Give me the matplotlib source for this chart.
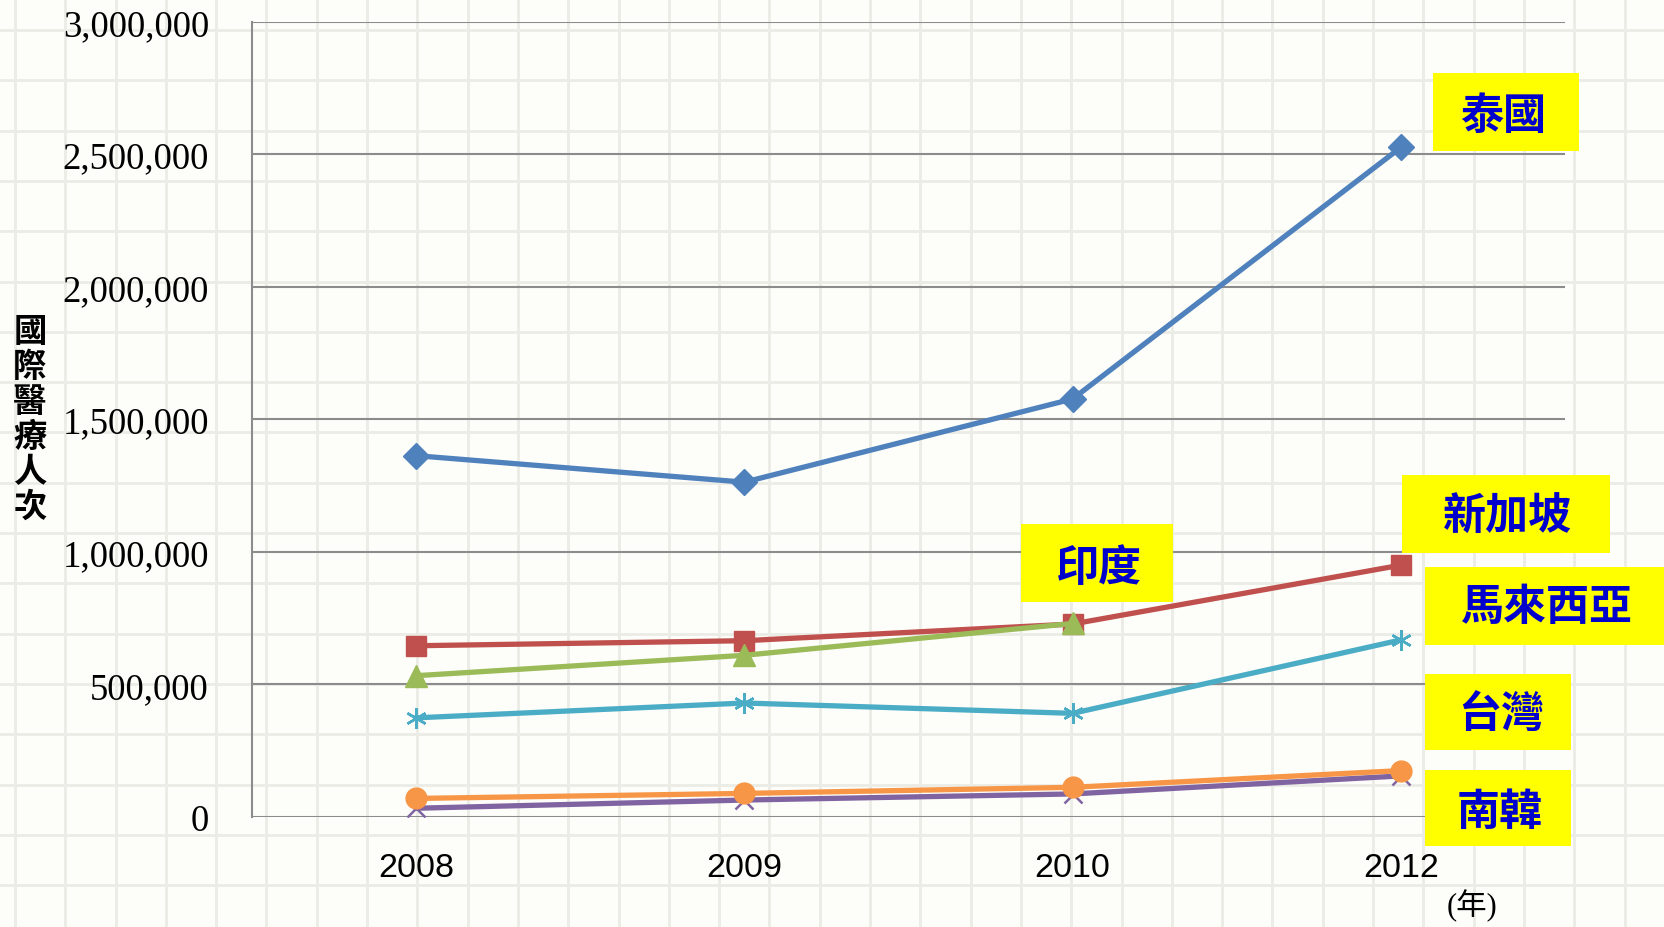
import numpy as np
import matplotlib
matplotlib.use('Agg')
import matplotlib.pyplot as plt
from matplotlib.patches import Rectangle
from matplotlib.ticker import FuncFormatter

# 國際醫療人次 (2008-2012)
years = ['2008', '2009', '2010', '2012']
thailand = [1363000, 1263000, 1577000, 2526000]
singapore = [646000, 665000, 728000, 950000]
india = [533000, 610000, 730000, np.nan]
korea = [33000, 64000, 87000, 155000]
malaysia = [374000, 430000, 391000, 668000]
taiwan = [70000, 89000, 112000, 175000]

W, H = 1665, 928
fig = plt.figure(figsize=(W / 100, H / 100), dpi=100, facecolor='#fdfdf9')

# graph-paper background
bg = fig.add_axes([0, 0, 1, 1], zorder=0)
bg.set_xlim(0, W)
bg.set_ylim(H, 0)
bg.axis('off')
for gx in np.arange(15, W, 50.3):
    bg.axvline(gx, color='#ececE7', lw=2)
for gy in np.arange(31, H, 50.3):
    bg.axhline(gy, color='#ececE7', lw=2)

ax = fig.add_axes([252 / W, 110 / H, (1565 - 252) / W, (818 - 22.7) / H], zorder=1)
ax.patch.set_alpha(0)

x = np.arange(len(years))
series = [
    (thailand, '#4f81bd', 'D', 13),
    (singapore, '#c0504d', 's', 14),
    (india, '#9bbb59', '^', 16),
    (korea, '#8064a2', 'x', 13),
    (malaysia, '#4bacc6', (6, 2, 0), 15),
    (taiwan, '#f79646', 'o', 15),
]
for vals, col, mk, ms in series:
    open_mk = mk in ('x',) or isinstance(mk, tuple)
    ax.plot(x, vals, color=col, lw=3.8, marker=mk, markersize=ms,
            markerfacecolor=col, markeredgecolor=col,
            markeredgewidth=1.8 if open_mk else 1, zorder=3)

ax.set_xlim(-0.5, 3.5)
ax.set_ylim(0, 3000000)
ax.set_yticks(np.arange(0, 3000001, 500000))
ax.yaxis.set_major_formatter(FuncFormatter(lambda v, p: f'{v:,.0f}'))
ax.set_xticks(x)
ax.set_xticklabels(years)
ax.yaxis.grid(True, color='#8c8c8c', lw=1.5)
ax.set_axisbelow(True)
for s in ['top', 'right', 'bottom']:
    ax.spines[s].set_visible(False)
ax.spines['left'].set_color('#8c8c8c')
ax.spines['left'].set_linewidth(1.5)
ax.tick_params(axis='y', length=0, pad=31, labelsize=26.5)
ax.tick_params(axis='x', length=0, pad=25, labelsize=24.5)
for t in ax.get_yticklabels():
    t.set_fontfamily('Liberation Serif')
for t in ax.get_xticklabels():
    t.set_fontfamily('Liberation Sans')

# overlay for the labels
fg = fig.add_axes([0, 0, 1, 1], zorder=2)
fg.set_xlim(0, W)
fg.set_ylim(H, 0)
fg.axis('off')

fg.text(30, 420, '\n'.join('國際醫療人次'), ha='center', va='center',
        fontsize=24, fontweight='bold', linespacing=1.08,
        family=['Noto Sans CJK TC', 'DejaVu Sans'])
fg.text(1472, 906, '(年)', ha='center', va='center', fontsize=22,
        family=['Liberation Serif', 'Noto Sans CJK TC'])

boxes = [
    ('泰國', 1433, 74, 146, 78, 1503, 116),
    ('新加坡', 1402, 476, 208, 78, 1507, 517),
    ('印度', 1021, 525, 152, 78, 1099, 568),
    ('馬來西亞', 1425, 568, 240, 78, 1546, 607),
    ('台灣', 1425, 675, 146, 76, 1501, 715),
    ('南韓', 1425, 771, 146, 76, 1500, 812),
]
for txt, bx, by, bw, bh, tx, ty in boxes:
    fg.add_patch(Rectangle((bx, by), bw, bh, facecolor='#ffff00', edgecolor='none'))
    fg.text(tx, ty, txt, ha='center', va='center', fontsize=31, fontweight='bold',
            color='#0000cc', family=['Noto Sans CJK TC', 'DejaVu Sans'])

fig.savefig('out.png', dpi=100, facecolor=fig.get_facecolor())
